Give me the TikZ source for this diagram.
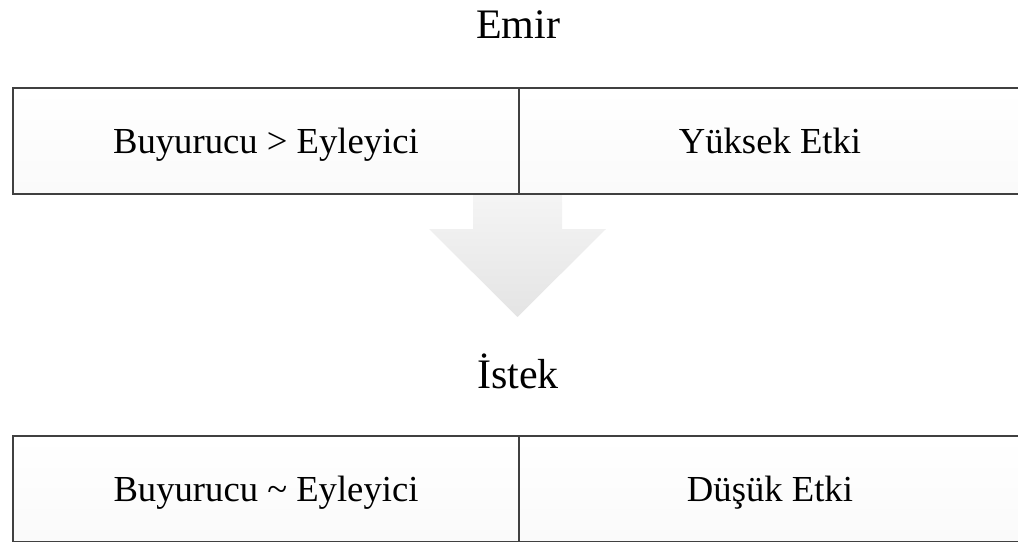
\documentclass[tikz,border=0pt]{standalone}
\usepackage{fontspec}
\setmainfont{Liberation Serif}
\definecolor{edge}{HTML}{404040}
\definecolor{arrowtop}{HTML}{F5F5F5}
\definecolor{arrowbot}{HTML}{E4E4E4}
\begin{document}
\begin{tikzpicture}[x=0.75pt,y=-0.75pt,
  cell/.style={draw=edge,line width=1.5pt,top color=white,bottom color=white!98!black,
    minimum height=106*0.75pt,inner sep=0pt,anchor=north west,text height=21pt,text depth=3pt,
    font=\fontsize{27.5}{30}\selectfont},
  title/.style={font=\fontsize{31.5}{36}\selectfont,inner sep=0pt,text height=24pt,text depth=7pt}]
\useasboundingbox (0,0) rectangle (1018,542);
\clip (0,0) rectangle (1018,542);
\shade[top color=arrowtop,bottom color=arrowbot]
  (473,190) -- (562,190) -- (562,229) -- (606,229) -- (517.5,317) -- (429,229) -- (473,229) -- cycle;
\node[title] (emir) at (518,27) {Emir};
\node[cell,minimum width=506*0.75pt] (b1l) at (12,87) {Buyurucu > Eyleyici};
\node[cell,minimum width=502*0.75pt] (b1r) at (518,87) {Yüksek Etki};
\node[title] (istek) at (518,377) {İstek};
\node[cell,minimum width=506*0.75pt] (b2l) at (12,435) {Buyurucu \textasciitilde{} Eyleyici};
\node[cell,minimum width=502*0.75pt] (b2r) at (518,435) {Düşük Etki};
\end{tikzpicture}
\end{document}
